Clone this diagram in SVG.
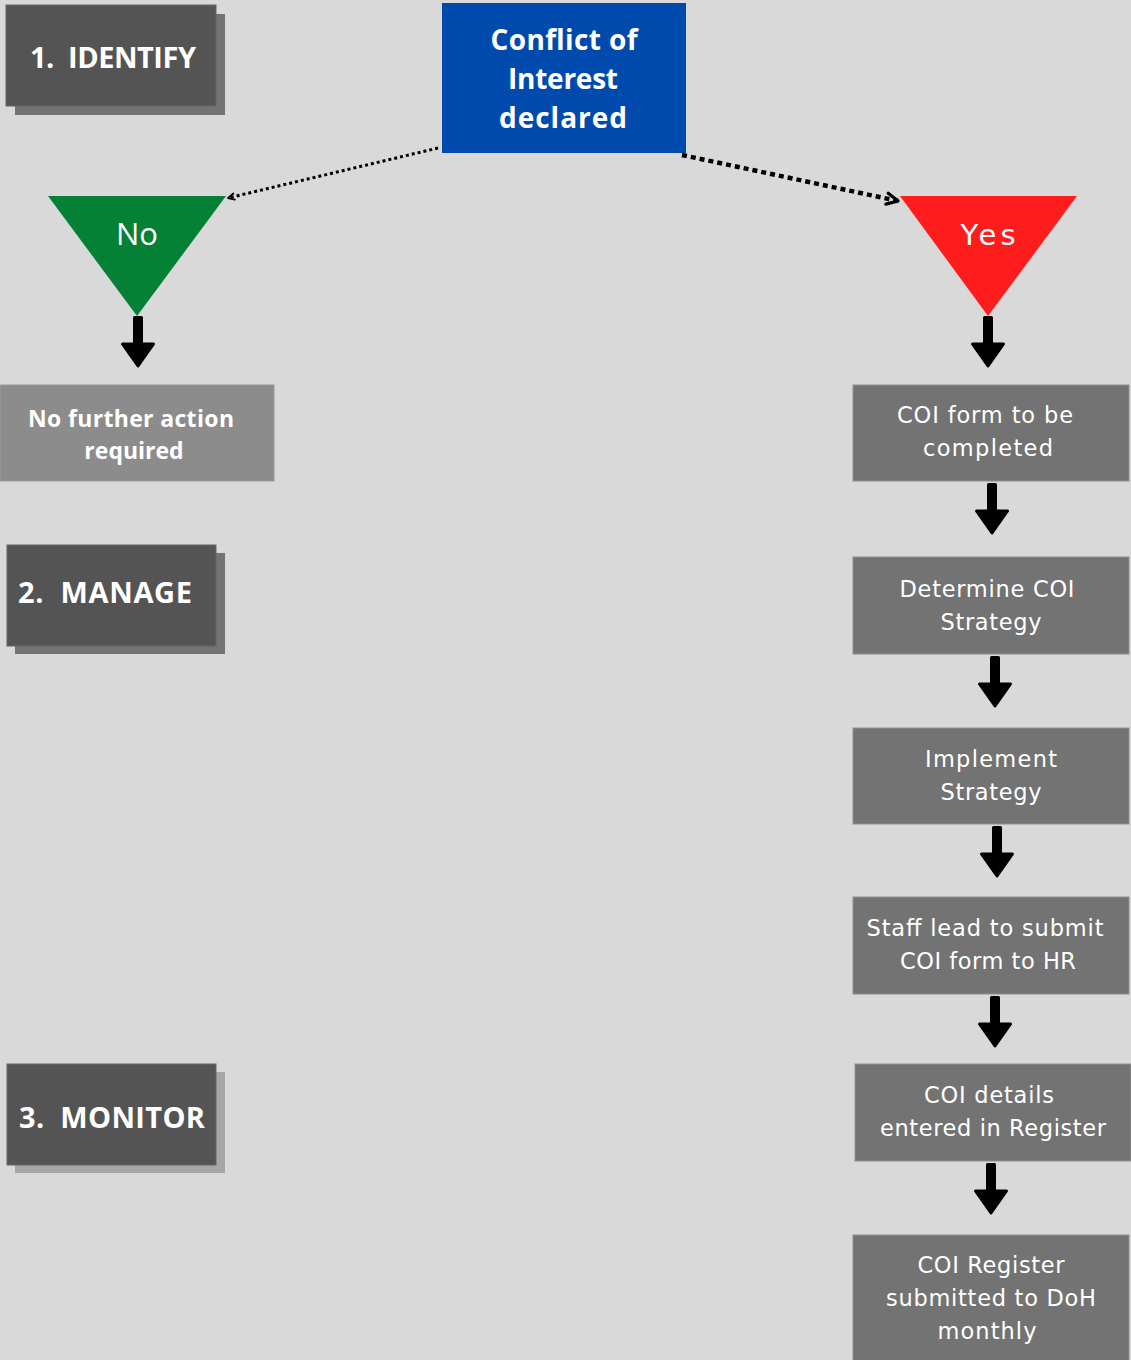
<svg xmlns="http://www.w3.org/2000/svg" xmlns:xlink="http://www.w3.org/1999/xlink" width="1131" height="1360" viewBox="0 0 1131 1360">
<style>
.head{fill:#545454;stroke:#666;stroke-width:1}
.htxt{font-family:"Open Sans","Liberation Sans",sans-serif;font-weight:700;font-size:29px;fill:#fff}
.step{fill:#737373;stroke:#8f8f8f;stroke-width:1}
.stxt{font-family:"DejaVu Sans","Open Sans",sans-serif;font-size:22.5px;fill:#fff;text-anchor:middle}
.btxt{font-family:"Open Sans","Liberation Sans",sans-serif;font-weight:700;font-size:28px;fill:#fff;text-anchor:middle}
.ttxt{font-family:"Open Sans","Liberation Sans",sans-serif;font-size:31px;fill:#fff;text-anchor:middle}
.ytxt{font-family:"DejaVu Sans","Open Sans",sans-serif;font-size:29px;fill:#fff;text-anchor:middle}
.ntxt{font-family:"Open Sans","Liberation Sans",sans-serif;font-weight:700;font-size:23px;fill:#fff;text-anchor:middle}
.dn{fill:#000;stroke:#000;stroke-width:3;stroke-linejoin:round}
</style>
<defs>
<path id="dn" class="dn" d="M-3.5,1.5 V28 H-15.5 L0,50 L15.5,28 H3.5 V1.5 Z"/>
<marker id="chevS" markerUnits="userSpaceOnUse" viewBox="0 0 10 10" refX="9" refY="5" markerWidth="9" markerHeight="9" orient="auto">
<path d="M2,1.5 L9,5 L2,8.5" fill="none" stroke="#000" stroke-width="2" stroke-linecap="round" stroke-linejoin="round"/>
</marker>
<marker id="chevL" markerUnits="userSpaceOnUse" viewBox="0 0 10 10" refX="9" refY="5" markerWidth="16" markerHeight="16" orient="auto">
<path d="M2,1.5 L9,5 L2,8.5" fill="none" stroke="#000" stroke-width="2" stroke-linecap="round" stroke-linejoin="round"/>
</marker>
</defs>
<rect width="1131" height="1360" fill="#d9d9d9"/>

<g id="identify">
<rect x="15" y="14" width="210" height="101" fill="#737373"/>
<rect class="head" x="6" y="5" width="210" height="101"/>
<text class="htxt" x="30" y="68" xml:space="preserve" textLength="166" lengthAdjust="spacing">1.  IDENTIFY</text>
</g>
<g id="manage">
<rect x="15" y="553" width="210" height="101" fill="#737373"/>
<rect class="head" x="7" y="545" width="209" height="101"/>
<text class="htxt" x="18" y="603" xml:space="preserve" textLength="174" lengthAdjust="spacing">2.  MANAGE</text>
</g>
<g id="monitor">
<rect x="15" y="1072" width="210" height="101" fill="#a6a6a6"/>
<rect class="head" x="7" y="1064" width="209" height="101"/>
<text class="htxt" x="19" y="1128" xml:space="preserve" textLength="186" lengthAdjust="spacing">3.  MONITOR</text>
</g>

<g id="coi-declared">
<rect x="442" y="3" width="244" height="150" fill="#004aad"/>
<text class="btxt" x="564" y="50" textLength="147" lengthAdjust="spacing">Conflict of</text>
<text class="btxt" x="563" y="89" textLength="110" lengthAdjust="spacing">Interest</text>
<text class="btxt" x="563" y="128" textLength="128" lengthAdjust="spacing">declared</text>
</g>

<g id="no">
<polygon points="48,196 226,196 137,316" fill="#048135"/>
<text class="ttxt" x="137" y="245">No</text>
</g>
<g id="yes">
<polygon points="900,196 1077,196 988,316" fill="#ff1c1c"/>
<text class="ytxt" x="988" y="245" textLength="55" lengthAdjust="spacing">Yes</text>
</g>

<g id="no-further-action">
<rect x="0" y="385" width="274" height="96" fill="#8c8c8c" stroke="#9a9a9a" stroke-width="1"/>
<text class="ntxt" x="131" y="427" textLength="206" lengthAdjust="spacing">No further action</text>
<text class="ntxt" x="134" y="459">required</text>
</g>

<g id="coi-form">
<rect class="step" x="853" y="385" width="276" height="96"/>
<text class="stxt" x="985" y="423" textLength="176" lengthAdjust="spacing">COI form to be</text>
<text class="stxt" x="988" y="456" textLength="130" lengthAdjust="spacing">completed</text>
</g>
<g id="determine">
<rect class="step" x="853" y="557" width="276" height="97"/>
<text class="stxt" x="987" y="597" textLength="175" lengthAdjust="spacing">Determine COI</text>
<text class="stxt" x="991" y="630" textLength="101" lengthAdjust="spacing">Strategy</text>
</g>
<g id="implement">
<rect class="step" x="853" y="728" width="276" height="96"/>
<text class="stxt" x="991" y="767" textLength="132" lengthAdjust="spacing">Implement</text>
<text class="stxt" x="991" y="800" textLength="101" lengthAdjust="spacing">Strategy</text>
</g>
<g id="staff-lead">
<rect class="step" x="853" y="897" width="276" height="97"/>
<text class="stxt" x="985" y="936" textLength="237" lengthAdjust="spacing">Staff lead to submit</text>
<text class="stxt" x="988" y="969" textLength="176" lengthAdjust="spacing">COI form to HR</text>
</g>
<g id="coi-details">
<rect class="step" x="855" y="1064" width="276" height="97"/>
<text class="stxt" x="989" y="1103" textLength="130" lengthAdjust="spacing">COI details</text>
<text class="stxt" x="993" y="1136" textLength="226" lengthAdjust="spacing">entered in Register</text>
</g>
<g id="coi-register">
<rect class="step" x="853" y="1235" width="276" height="130"/>
<text class="stxt" x="991" y="1273" textLength="147" lengthAdjust="spacing">COI Register</text>
<text class="stxt" x="991" y="1306" textLength="210" lengthAdjust="spacing">submitted to DoH</text>
<text class="stxt" x="987" y="1339" textLength="99" lengthAdjust="spacing">monthly</text>
</g>

<g id="connectors">
<line x1="438" y1="148" x2="228" y2="198" stroke="#000" stroke-width="3" stroke-dasharray="3 3" marker-end="url(#chevS)"/>
<line x1="682" y1="155" x2="898" y2="201" stroke="#000" stroke-width="4.5" stroke-dasharray="5 4" marker-end="url(#chevL)"/>
<use xlink:href="#dn" x="138" y="316"/>
<use xlink:href="#dn" x="988" y="316"/>
<use xlink:href="#dn" x="992" y="483"/>
<use xlink:href="#dn" x="995" y="656"/>
<use xlink:href="#dn" x="997" y="826"/>
<use xlink:href="#dn" x="995" y="996"/>
<use xlink:href="#dn" x="991" y="1163"/>
</g>
</svg>
